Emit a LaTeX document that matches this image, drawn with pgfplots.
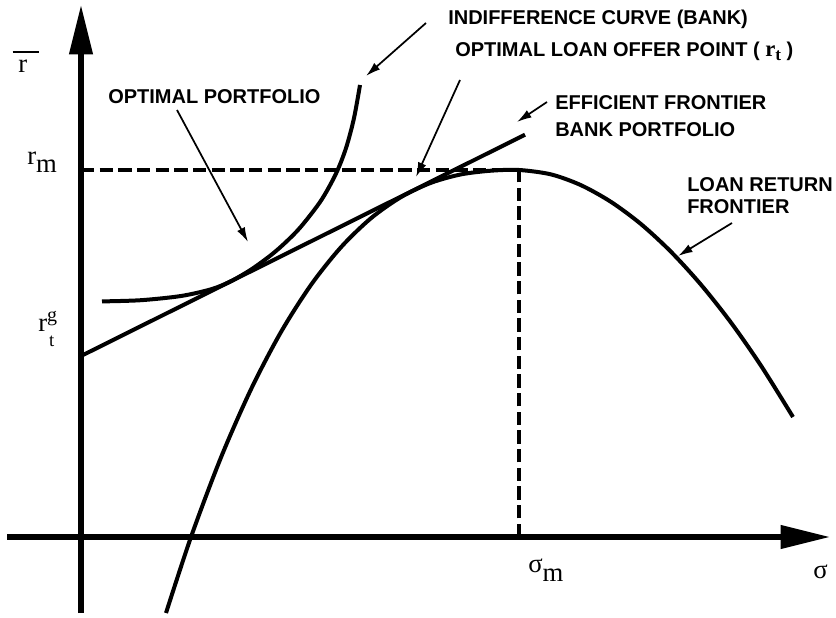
\documentclass[border=0pt]{standalone}
\usepackage{fontspec}
\setmainfont{Liberation Sans}
\newfontfamily\serif{Liberation Serif}
\usepackage{pgfplots}
\pgfplotsset{compat=1.18}
\usetikzlibrary{arrows.meta}
\newcommand{\lbl}{\fontsize{15}{18}\selectfont\bfseries}
\newcommand{\sym}{\serif\fontsize{20}{22}\selectfont}
\begin{document}
\begin{tikzpicture}
\begin{axis}[name=ax, width=627pt, height=463.5pt, scale only axis,
  xmin=-81, xmax=755, ymin=-81, ymax=537, axis lines=none, clip=false]
% coordinate axes
\addplot[line width=4pt, -{Triangle[length=37pt,width=17pt]}] coordinates {(0,-76) (0,532)};
\addplot[line width=4pt, -{Triangle[length=37pt,width=17pt]}] coordinates {(-74,0) (749,0)};
% dashed guides
\addplot[line width=2.6pt, dash pattern=on 10pt off 4pt] coordinates {(0,367) (438,367)};
\addplot[line width=2.6pt, dash pattern=on 10pt off 4pt] coordinates {(438,0) (438,367)};
% loan return frontier
\addplot[line width=3pt, smooth] coordinates {
 (85,-76) (110,0) (140,79.6) (170,147.7) (200,205) (230,252.1) (260,289.8)
 (290,318.8) (320,339.9) (350,354.2) (380,362.6) (410,366.3) (438,367)
 (470,362.6) (500,351.8) (530,335.1) (560,312.9) (590,285.2) (620,252.3)
 (650,214.4) (680,171.3) (712,120)};
% efficient frontier (bank portfolio)
\addplot[line width=3pt] coordinates {(0,181) (444,402.3)};
% indifference curve
\addplot[line width=3pt, smooth] coordinates {
 (21,235.6) (60,236.8) (100,241.0) (130,247.7) (149,255.3) (170,267.4)
 (190,281.9) (205,295.0) (220,310.4) (240,336.4) (255,363.4) (265,388.9)
 (273,418.9) (279,452)};
% pointer arrows
\addplot[line width=1.3pt, -{Latex[length=11pt,width=6.5pt]}] coordinates {(345,514) (285,461)};
\addplot[line width=1.3pt, -{Latex[length=11pt,width=6.5pt]}] coordinates {(379,457) (335,360)};
\addplot[line width=1.3pt, -{Latex[length=11pt,width=6.5pt]}] coordinates {(466,435) (436,415)};
\addplot[line width=1.3pt, -{Latex[length=11pt,width=6.5pt]}] coordinates {(651,314) (597,281)};
\addplot[line width=1.3pt, -{Latex[length=11pt,width=6.5pt]}] coordinates {(96,427) (167,295)};
% text labels
\node[anchor=base west, inner sep=0pt, font=\lbl] at (axis cs:367,512) {INDIFFERENCE CURVE (BANK)};
\node[anchor=base west, inner sep=0pt, font=\lbl] at (axis cs:374,480) {OPTIMAL LOAN OFFER POINT ( {\serif\fontsize{17}{17}\selectfont r\raisebox{-3pt}{\fontsize{13}{13}\selectfont t}} )};
\node[anchor=base west, inner sep=0pt, font=\lbl] at (axis cs:474,427) {EFFICIENT FRONTIER};
\node[anchor=base west, inner sep=0pt, font=\lbl] at (axis cs:474,400) {BANK PORTFOLIO};
\node[anchor=base west, inner sep=0pt, font=\lbl] at (axis cs:606,345) {LOAN RETURN};
\node[anchor=base west, inner sep=0pt, font=\lbl] at (axis cs:606,323) {FRONTIER};
\node[anchor=base west, inner sep=0pt, font=\lbl] at (axis cs:27,433) {OPTIMAL PORTFOLIO};
% symbols
\node[inner sep=0pt] at (axis cs:-55,485) {\rule{20pt}{1.6pt}};
\node[anchor=base west, inner sep=0pt, font=\sym] at (axis cs:-63,464) {r};
\node[anchor=base west, inner sep=0pt, font=\sym] at (axis cs:-54,372) {r\raisebox{-6pt}{m}};
\node[anchor=base west, inner sep=0pt, font=\sym] at (axis cs:-43,205) {r\rlap{\raisebox{8pt}{\fontsize{15}{15}\selectfont g}}\kern1.5pt\raisebox{-11pt}{\fontsize{14}{14}\selectfont t}};
\node[anchor=base west, inner sep=0pt, font=\sym] at (axis cs:447,-35) {σ\raisebox{-7pt}{m}};
\node[anchor=base west, inner sep=0pt, font=\sym] at (axis cs:732,-41) {σ};
\end{axis}
\pgfresetboundingbox
\path (ax.south west) rectangle (ax.north east);
\end{tikzpicture}
\end{document}
